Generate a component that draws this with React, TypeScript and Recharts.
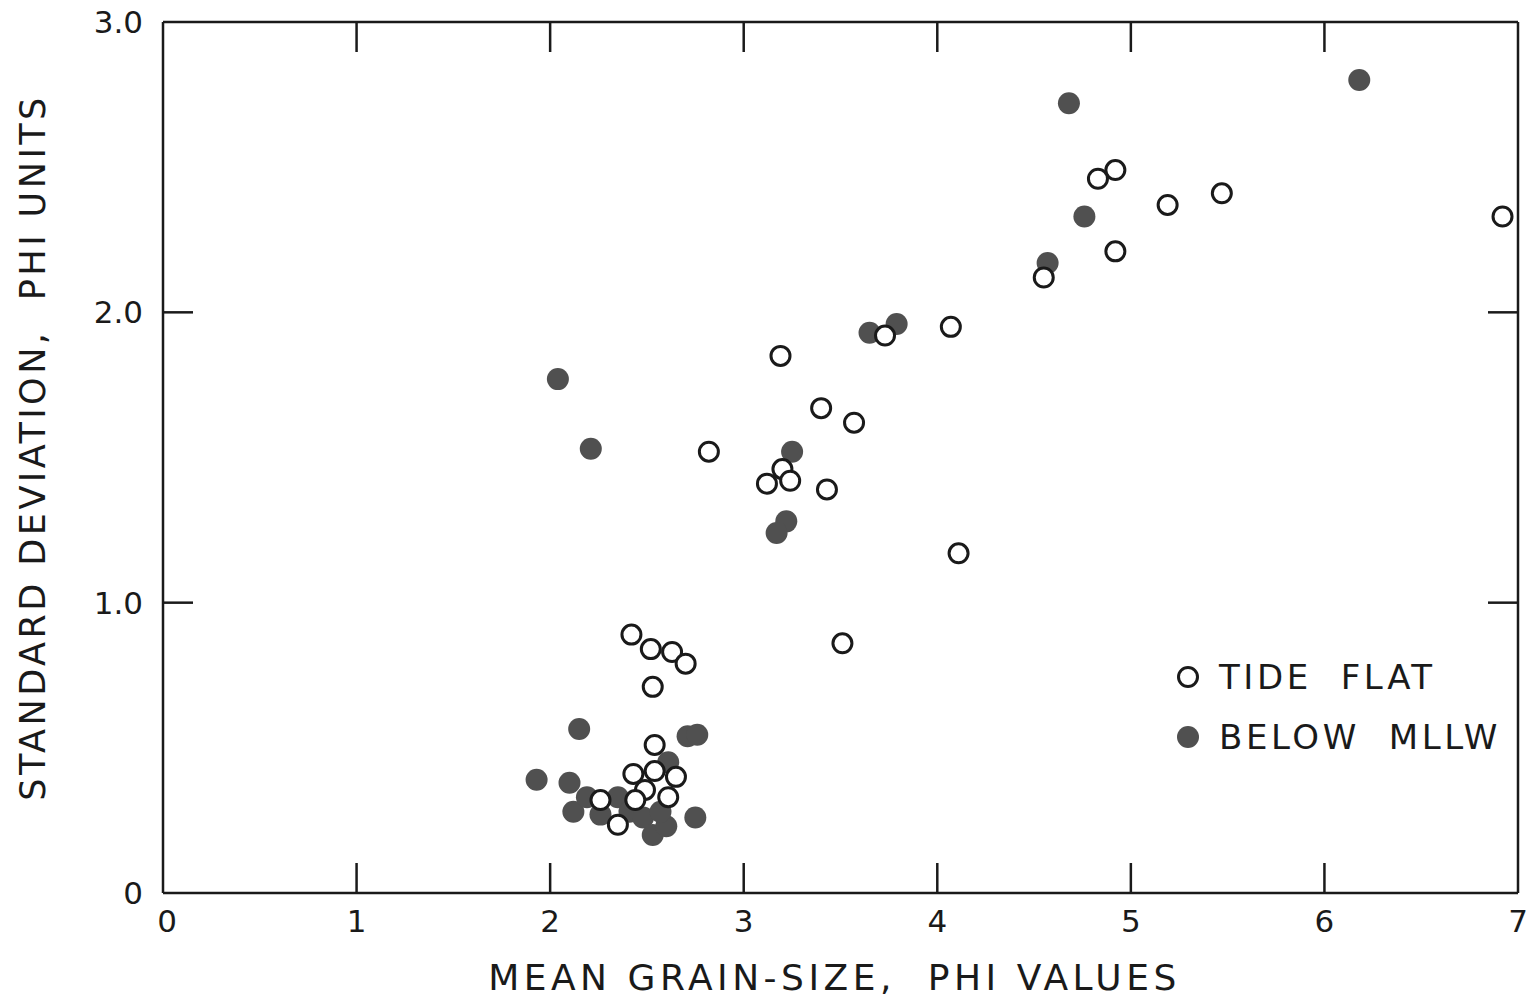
import React from "react";
import { ScatterChart, Scatter, XAxis, YAxis, Legend, Label } from "recharts";

// ---- data ----
const tideFlatX = [6.92, 4.92, 4.83, 5.19, 5.47, 4.92, 4.55, 4.07, 3.73, 3.19, 3.40, 3.57, 2.82, 3.12, 3.20, 3.24, 3.43, 4.11, 3.51, 2.42, 2.52, 2.63, 2.70, 2.53, 2.54, 2.43, 2.54, 2.65, 2.49, 2.61, 2.26, 2.44, 2.35];
const tideFlatY = [2.33, 2.49, 2.46, 2.37, 2.41, 2.21, 2.12, 1.95, 1.92, 1.85, 1.67, 1.62, 1.52, 1.41, 1.46, 1.42, 1.39, 1.17, 0.86, 0.89, 0.84, 0.83, 0.79, 0.71, 0.51, 0.41, 0.42, 0.40, 0.355, 0.33, 0.32, 0.32, 0.235];

const belowX = [6.18, 4.68, 4.76, 4.57, 3.65, 3.79, 2.04, 2.21, 3.25, 3.22, 3.17, 2.15, 2.71, 2.76, 1.93, 2.10, 2.12, 2.19, 2.26, 2.35, 2.41, 2.48, 2.53, 2.60, 2.61, 2.75, 2.57];
const belowY = [2.80, 2.72, 2.33, 2.17, 1.93, 1.96, 1.77, 1.53, 1.52, 1.28, 1.24, 0.565, 0.54, 0.545, 0.39, 0.38, 0.28, 0.33, 0.27, 0.33, 0.28, 0.26, 0.20, 0.23, 0.45, 0.26, 0.28];

const xTicks = [0, 1, 2, 3, 4, 5, 6, 7];
const xTickLabels = ["0", "1", "2", "3", "4", "5", "6", "7"];
const yTicks = [0, 1, 2, 3];
const yTickLabels = ["0", "1.0", "2.0", "3.0"];

const seriesNames = ["TIDE FLAT", "BELOW MLLW"];
const xTitle = "MEAN GRAIN-SIZE,  PHI VALUES";
const yTitle = "STANDARD DEVIATION,  PHI UNITS";

const tideFlat = tideFlatX.map((x, i) => ({ x, y: tideFlatY[i] }));
const below = belowX.map((x, i) => ({ x, y: belowY[i] }));

const FONT = "'DejaVu Sans', sans-serif";
const INK = "#1a1a1a";
const FILL = "#505050";
const TICK_LEN = 30;

const OpenDot = (p: any) => (
  <circle cx={p.cx} cy={p.cy} r={9.5} fill="#fff" stroke={INK} strokeWidth={3} />
);
const FilledDot = (p: any) => <circle cx={p.cx} cy={p.cy} r={11} fill={FILL} stroke="none" />;
const NoDot = () => <g />;

const inner = (v: number, lo: number, hi: number) => v > lo && v < hi;

const BottomTick = (p: any) => {
  const v = p.payload.value;
  const idx = xTicks.indexOf(v);
  return (
    <g>
      {inner(v, 0, 7) && <line x1={p.x} x2={p.x} y1={p.y} y2={p.y - TICK_LEN} stroke={INK} strokeWidth={2.5} />}
      <text x={p.x + (v === 0 ? 4 : 0)} y={p.y + 39} textAnchor="middle" fontFamily={FONT} fontSize={31} fill={INK}>
        {xTickLabels[idx]}
      </text>
    </g>
  );
};

const TopTick = (p: any) => {
  const v = p.payload.value;
  return inner(v, 0, 7) ? (
    <line x1={p.x} x2={p.x} y1={p.y} y2={p.y + TICK_LEN} stroke={INK} strokeWidth={2.5} />
  ) : (
    <g />
  );
};

const LeftTick = (p: any) => {
  const v = p.payload.value;
  const idx = yTicks.indexOf(v);
  return (
    <g>
      {inner(v, 0, 3) && <line x1={p.x} x2={p.x + TICK_LEN} y1={p.y} y2={p.y} stroke={INK} strokeWidth={2.5} />}
      <text x={p.x - 20} y={p.y + 11} textAnchor="end" fontFamily={FONT} fontSize={31} fill={INK}>
        {yTickLabels[idx]}
      </text>
    </g>
  );
};

const RightTick = (p: any) => {
  const v = p.payload.value;
  return inner(v, 0, 3) ? (
    <line x1={p.x} x2={p.x - TICK_LEN} y1={p.y} y2={p.y} stroke={INK} strokeWidth={2.5} />
  ) : (
    <g />
  );
};

const XTitle = (p: any) => {
  const vb = p.viewBox;
  return (
    <text
      x={vb.x + vb.width / 2 - 6}
      y={vb.y + 97}
      textAnchor="middle"
      fontFamily={FONT}
      fontSize={36}
      letterSpacing={4.5}
      fill={INK}
      style={{ whiteSpace: "pre" }}
    >
      {xTitle}
    </text>
  );
};

const YTitle = (p: any) => {
  const vb = p.viewBox;
  const cx = vb.x + 37;
  const cy = vb.y + vb.height / 2 - 10;
  return (
    <text
      x={cx}
      y={cy}
      transform={`rotate(-90 ${cx} ${cy})`}
      textAnchor="middle"
      fontFamily={FONT}
      fontSize={35}
      letterSpacing={3.5}
      fill={INK}
      style={{ whiteSpace: "pre" }}
    >
      {yTitle}
    </text>
  );
};

const LegendContent = () => (
  <div style={{ fontFamily: FONT, fontSize: 34, color: INK, letterSpacing: 3.6, lineHeight: "60px", whiteSpace: "pre" }}>
    {seriesNames.map((name, i) => (
      <div key={name} style={{ display: "flex", alignItems: "center", height: 60 }}>
        <svg width={44} height={30} style={{ marginRight: 7 }}>
          {i === 0 ? (
            <circle cx={20} cy={15} r={9.5} fill="#fff" stroke={INK} strokeWidth={3} />
          ) : (
            <circle cx={20} cy={15} r={11} fill={FILL} />
          )}
        </svg>
        <span>{name.replace(" ", "  ")}</span>
      </div>
    ))}
  </div>
);

export default function App() {
  return (
    <div style={{ width: 1528, height: 995, background: "#fff" }}>
      <style>{"svg.recharts-surface{overflow:visible}"}</style>
      <ScatterChart width={1528} height={995} margin={{ top: 13, right: 17, left: 0, bottom: 0 }}>
        <XAxis
          xAxisId="b"
          dataKey="x"
          type="number"
          domain={[0, 7]}
          ticks={xTicks}
          interval={0}
          height={110}
          tickSize={0}
          tickMargin={0}
          tickLine={false}
          axisLine={{ stroke: INK, strokeWidth: 2.5 }}
          tick={<BottomTick />}
          allowDataOverflow
        >
          <Label content={<XTitle />} />
        </XAxis>
        <XAxis
          xAxisId="t"
          dataKey="x"
          orientation="top"
          type="number"
          domain={[0, 7]}
          ticks={xTicks}
          interval={0}
          height={1}
          tickSize={0}
          tickMargin={0}
          tickLine={false}
          axisLine={{ stroke: INK, strokeWidth: 2.5 }}
          tick={<TopTick />}
          allowDataOverflow
        />
        <YAxis
          yAxisId="l"
          dataKey="y"
          type="number"
          domain={[0, 3]}
          ticks={yTicks}
          interval={0}
          width={155}
          tickSize={0}
          tickMargin={0}
          tickLine={false}
          axisLine={{ stroke: INK, strokeWidth: 2.5 }}
          tick={<LeftTick />}
          allowDataOverflow
        >
          <Label content={<YTitle />} />
        </YAxis>
        <YAxis
          yAxisId="r"
          dataKey="y"
          orientation="right"
          type="number"
          domain={[0, 3]}
          ticks={yTicks}
          interval={0}
          width={1}
          tickSize={0}
          tickMargin={0}
          tickLine={false}
          axisLine={{ stroke: INK, strokeWidth: 2.5 }}
          tick={<RightTick />}
          allowDataOverflow
        />
        <Scatter
          name="frame"
          data={tideFlat}
          xAxisId="t"
          yAxisId="r"
          shape={<NoDot />}
          legendType="none"
          isAnimationActive={false}
        />
        <Scatter
          name={seriesNames[1]}
          data={below}
          xAxisId="b"
          yAxisId="l"
          shape={<FilledDot />}
          isAnimationActive={false}
        />
        <Scatter
          name={seriesNames[0]}
          data={tideFlat}
          xAxisId="b"
          yAxisId="l"
          shape={<OpenDot />}
          isAnimationActive={false}
        />
        <Legend
          layout="vertical"
          align="center"
          verticalAlign="middle"
          content={<LegendContent />}
          wrapperStyle={{ left: 1160, top: 639, width: 360, height: 130 }}
        />
      </ScatterChart>
    </div>
  );
}
